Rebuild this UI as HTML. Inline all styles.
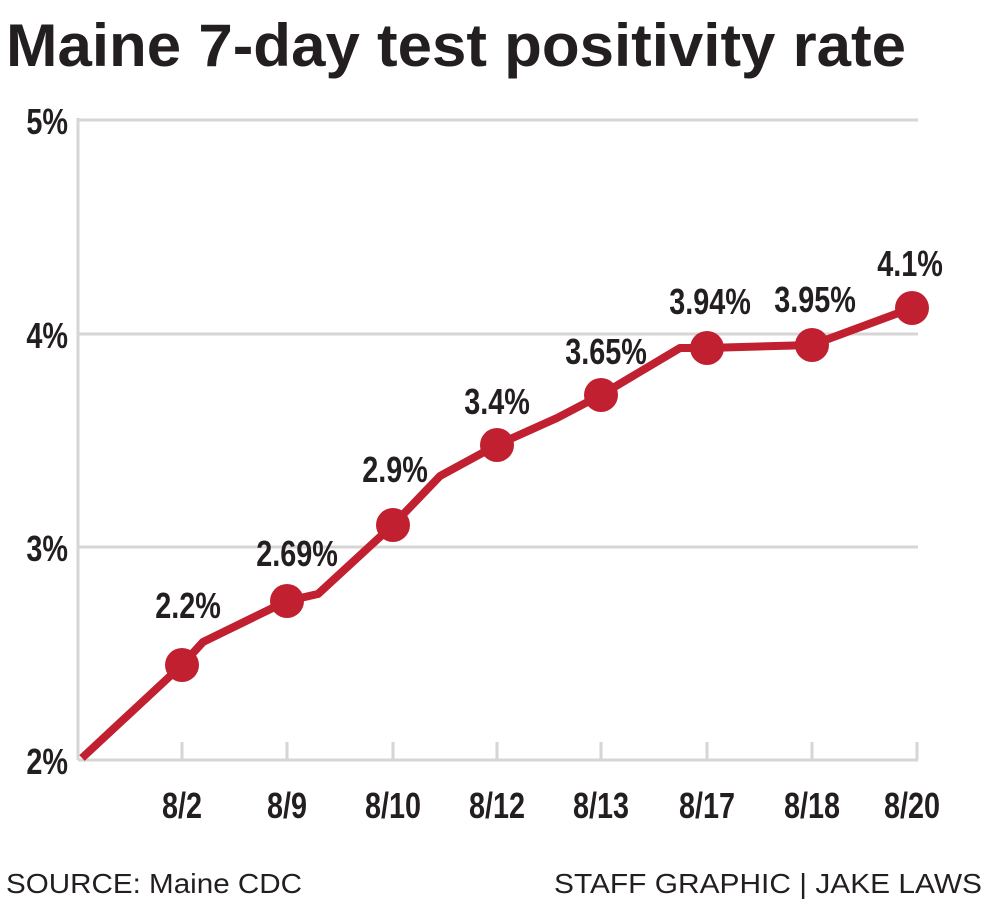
<!DOCTYPE html>
<html><head><style>
body{margin:0;background:#fff;width:988px;height:900px;overflow:hidden}
</style></head><body>
<svg width="988" height="900" xmlns="http://www.w3.org/2000/svg">
<text x="6" y="66" font-family="Liberation Sans Narrow, Liberation Sans, sans-serif" font-weight="bold" font-size="60" fill="#231f20" textLength="900" lengthAdjust="spacingAndGlyphs">Maine 7-day test positivity rate</text>
<g stroke="#d6d6d6" stroke-width="3">
<line x1="78" y1="120" x2="918" y2="120"/>
<line x1="78" y1="334" x2="918" y2="334"/>
<line x1="78" y1="547" x2="918" y2="547"/>
<line x1="78" y1="118" x2="78" y2="760"/>
<line x1="78" y1="760" x2="918" y2="760"/>
<line x1="182" y1="742" x2="182" y2="760"/><line x1="287" y1="742" x2="287" y2="760"/>
<line x1="393" y1="742" x2="393" y2="760"/><line x1="497" y1="742" x2="497" y2="760"/>
<line x1="601" y1="742" x2="601" y2="760"/><line x1="707" y1="742" x2="707" y2="760"/>
<line x1="812" y1="742" x2="812" y2="760"/><line x1="917" y1="742" x2="917" y2="760"/>
</g>
<g font-family="Liberation Sans Narrow, Liberation Sans, sans-serif" font-weight="bold" font-size="36" fill="#231f20">
<g text-anchor="end">
<g transform="translate(68,134) scale(0.8,1)"><text>5%</text></g>
<g transform="translate(68,348) scale(0.8,1)"><text>4%</text></g>
<g transform="translate(68,561) scale(0.8,1)"><text>3%</text></g>
<g transform="translate(68,774) scale(0.8,1)"><text>2%</text></g>
</g>
<g text-anchor="middle">
<g transform="translate(182,818) scale(0.8,1)"><text>8/2</text></g>
<g transform="translate(287,818) scale(0.8,1)"><text>8/9</text></g>
<g transform="translate(393,818) scale(0.8,1)"><text>8/10</text></g>
<g transform="translate(497,818) scale(0.8,1)"><text>8/12</text></g>
<g transform="translate(601,818) scale(0.8,1)"><text>8/13</text></g>
<g transform="translate(707,818) scale(0.8,1)"><text>8/17</text></g>
<g transform="translate(812,818) scale(0.8,1)"><text>8/18</text></g>
<g transform="translate(912,818) scale(0.8,1)"><text>8/20</text></g>
<g transform="translate(188,618) scale(0.8,1)"><text>2.2%</text></g>
<g transform="translate(297,566) scale(0.8,1)"><text>2.69%</text></g>
<g transform="translate(395,482) scale(0.8,1)"><text>2.9%</text></g>
<g transform="translate(497,414) scale(0.8,1)"><text>3.4%</text></g>
<g transform="translate(606,364) scale(0.8,1)"><text>3.65%</text></g>
<g transform="translate(710,314) scale(0.8,1)"><text>3.94%</text></g>
<g transform="translate(815,312) scale(0.8,1)"><text>3.95%</text></g>
<g transform="translate(910,276) scale(0.8,1)"><text>4.1%</text></g>
</g></g>
<polyline fill="none" stroke="#c0202f" stroke-width="8" stroke-linejoin="round" points="82,758 182,665 203,642 287,601 318,594 393,525 440,476 497,445 557,418 601,395 680,348 707,348 812,345 912,308"/>
<g fill="#c0202f">
<circle cx="182" cy="665" r="17"/><circle cx="287" cy="601" r="17"/><circle cx="393" cy="525" r="17"/>
<circle cx="497" cy="445" r="17"/><circle cx="601" cy="395" r="17"/><circle cx="707" cy="348" r="17"/>
<circle cx="812" cy="345" r="17"/><circle cx="912" cy="308" r="17"/>
</g>
<g font-family="Liberation Sans, sans-serif" font-size="28" fill="#231f20">
<text x="6" y="893" textLength="296" lengthAdjust="spacingAndGlyphs">SOURCE: Maine CDC</text>
<text x="982" y="893" text-anchor="end" textLength="428" lengthAdjust="spacingAndGlyphs">STAFF GRAPHIC | JAKE LAWS</text>
</g>
</svg>
</body></html>
